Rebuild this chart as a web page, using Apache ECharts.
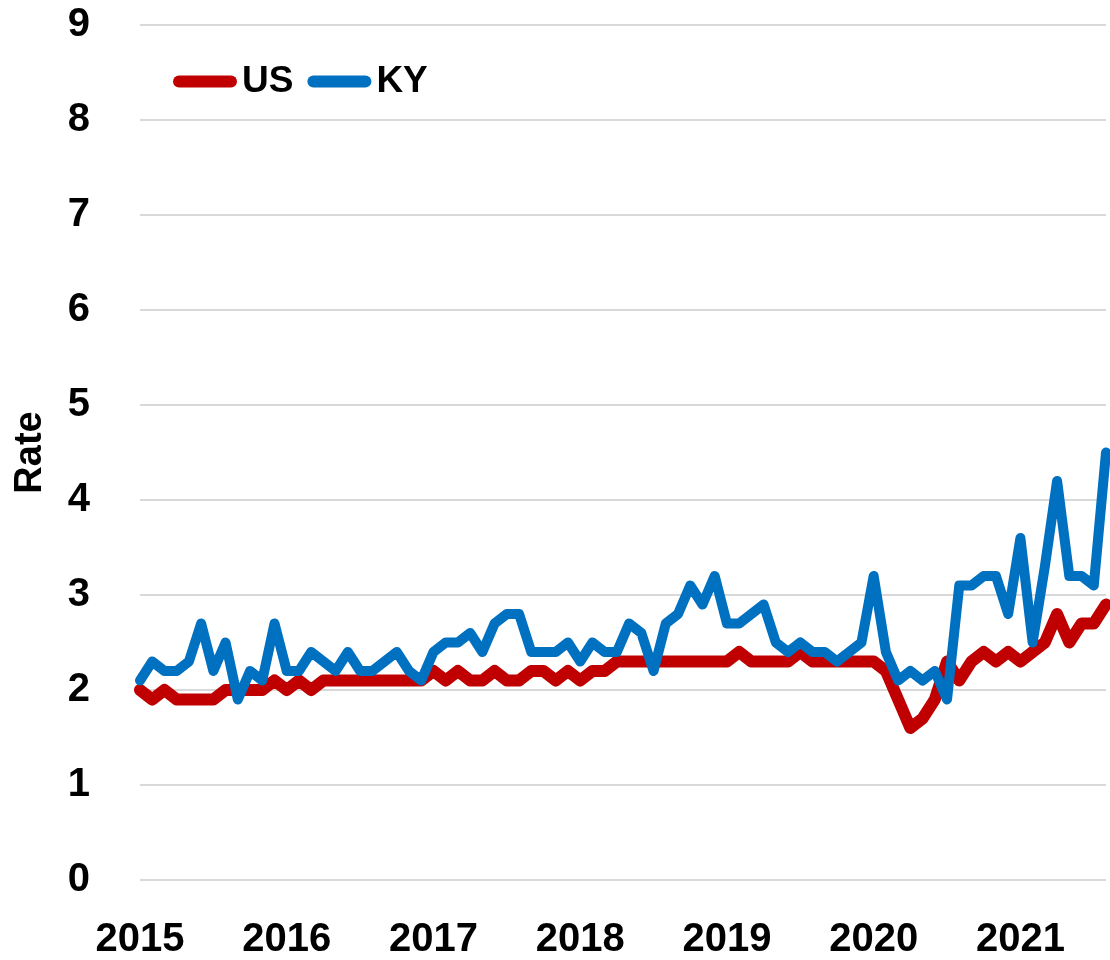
<!DOCTYPE html>
<html>
<head>
<meta charset="utf-8">
<title>Rate: US vs KY</title>
<script src="https://cdn.jsdelivr.net/npm/echarts@6/dist/echarts.min.js"></script>
<style>
  html, body { margin: 0; padding: 0; background: #ffffff; }
  #chart { width: 1110px; height: 960px; }
</style>
</head>
<body>
<div id="chart"></div>
<script>
// monthly, Jan 2015 .. Aug 2021
const yearLabels = ['2015', '2016', '2017', '2018', '2019', '2020', '2021']
const monthsPerYear = 12

const usRate = [
  2.0, 1.9, 2.0, 1.9, 1.9, 1.9, 1.9, 2.0, 2.0, 2.0, 2.0, 2.1,
  2.0, 2.1, 2.0, 2.1, 2.1, 2.1, 2.1, 2.1, 2.1, 2.1, 2.1, 2.1,
  2.2, 2.1, 2.2, 2.1, 2.1, 2.2, 2.1, 2.1, 2.2, 2.2, 2.1, 2.2,
  2.1, 2.2, 2.2, 2.3, 2.3, 2.3, 2.3, 2.3, 2.3, 2.3, 2.3, 2.3,
  2.3, 2.4, 2.3, 2.3, 2.3, 2.3, 2.4, 2.3, 2.3, 2.3, 2.3, 2.3,
  2.3, 2.2, 1.9, 1.6, 1.7, 1.9, 2.3, 2.1, 2.3, 2.4, 2.3, 2.4,
  2.3, 2.4, 2.5, 2.8, 2.5, 2.7, 2.7, 2.9,
]

const kyRate = [
  2.1, 2.3, 2.2, 2.2, 2.3, 2.7, 2.2, 2.5, 1.9, 2.2, 2.1, 2.7,
  2.2, 2.2, 2.4, 2.3, 2.2, 2.4, 2.2, 2.2, 2.3, 2.4, 2.2, 2.1,
  2.4, 2.5, 2.5, 2.6, 2.4, 2.7, 2.8, 2.8, 2.4, 2.4, 2.4, 2.5,
  2.3, 2.5, 2.4, 2.4, 2.7, 2.6, 2.2, 2.7, 2.8, 3.1, 2.9, 3.2,
  2.7, 2.7, 2.8, 2.9, 2.5, 2.4, 2.5, 2.4, 2.4, 2.3, 2.4, 2.5,
  3.2, 2.4, 2.1, 2.2, 2.1, 2.2, 1.9, 3.1, 3.1, 3.2, 3.2, 2.8,
  3.6, 2.5, 3.3, 4.2, 3.2, 3.2, 3.1, 4.5,
]

const yTicks = { min: 0, max: 9, interval: 1 }

const COLORS = {
  us: '#c00000',
  ky: '#0070c0',
  grid: '#d9d9d9',
  text: '#000000',
}

const FONT = '"Liberation Sans", Arial, sans-serif'

// one category per month, only January gets a year label
const categories = usRate.map((_, i) => {
  return i % monthsPerYear === 0 ? yearLabels[i / monthsPerYear] : ''
})

const chart = echarts.init(document.getElementById('chart'), null, { renderer: 'canvas' })

const lineSeries = (name, data, color, width) => ({
  name,
  type: 'line',
  data,
  showSymbol: false,
  symbol: 'none',
  smooth: false,
  animation: false,
  color,
  lineStyle: {
    color,
    width,
    cap: 'round',
    join: 'round',
  },
})

const option = {
  animation: false,
  backgroundColor: '#ffffff',
  textStyle: { fontFamily: FONT },
  legend: {
    data: ['US', 'KY'],
    left: 168,
    top: 58,
    itemWidth: 64,
    itemHeight: 12,
    itemGap: 14,
    icon: 'path://M6,0 L58,0 A6,6 0 0 1 58,12 L6,12 A6,6 0 0 1 6,0 Z',
    textStyle: {
      color: COLORS.text,
      fontSize: 37,
      fontWeight: 'bold',
      fontFamily: FONT,
    },
  },
  grid: {
    left: 140,
    right: 4,
    top: 25,
    bottom: 80,
    containLabel: false,
  },
  xAxis: {
    type: 'category',
    boundaryGap: false,
    data: categories,
    axisLine: { show: false },
    axisTick: { show: false },
    axisLabel: {
      interval: 0,
      hideOverlap: false,
      color: COLORS.text,
      fontSize: 40,
      fontWeight: 'bold',
      fontFamily: FONT,
      margin: 40,
    },
    splitLine: { show: false },
  },
  yAxis: {
    type: 'value',
    min: yTicks.min,
    max: yTicks.max,
    interval: yTicks.interval,
    name: 'Rate',
    nameLocation: 'middle',
    nameGap: 90,
    nameRotate: 90,
    nameTextStyle: {
      color: COLORS.text,
      fontSize: 38,
      fontWeight: 'bold',
      fontFamily: FONT,
    },
    axisLine: { show: false },
    axisTick: { show: false },
    axisLabel: {
      color: COLORS.text,
      fontSize: 40,
      fontWeight: 'bold',
      fontFamily: FONT,
      margin: 50,
    },
    splitLine: {
      lineStyle: {
        color: COLORS.grid,
        width: 2,
      },
    },
  },
  series: [
    lineSeries('US', usRate, COLORS.us, 12),
    lineSeries('KY', kyRate, COLORS.ky, 10),
  ],
}

chart.setOption(option)
</script>
</body>
</html>
